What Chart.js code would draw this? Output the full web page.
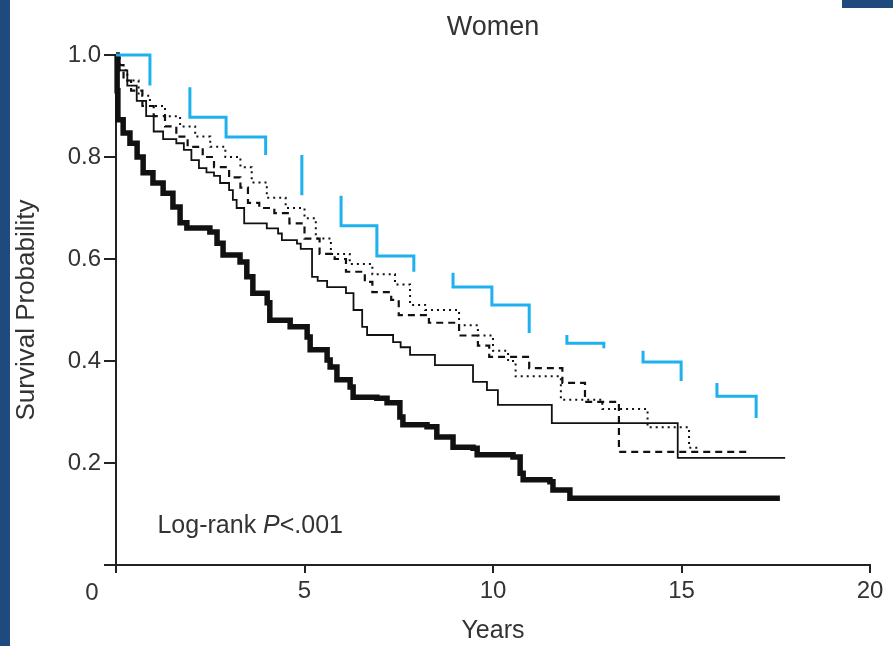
<!DOCTYPE html>
<html lang="en">
<head>
<meta charset="UTF-8">
<title>Women</title>
<script src="https://cdn.jsdelivr.net/npm/chart.js"></script>
<style>
    html, body { margin: 0; padding: 0; background: #fff; }
    body { width: 893px; height: 646px; position: relative; overflow: hidden; }
    canvas { position: absolute; left: 0; top: 0; }
    .bar { position: absolute; background: #1f4a7e; }
    #leftBar { left: 0; top: 0; width: 10px; height: 646px; }
    #cornerBar { left: 842px; top: 0; width: 51px; height: 8px; }
</style>
</head>
<body>
<canvas id="kmChart" width="893" height="646"></canvas>
<div class="bar" id="leftBar"></div>
<div class="bar" id="cornerBar"></div>
<script>
    // survival curves (years, probability)
    const thickYears = [0, 0.03, 0.05, 0.19, 0.37, 0.56, 0.72, 0.98, 1.25, 1.51, 1.70, 1.88, 2.49, 2.68, 2.84, 3.29, 3.47, 3.63, 4.01, 4.08, 4.62, 5.07, 5.15, 5.60, 5.68, 5.86, 6.21, 6.29, 6.92, 7.19, 7.53, 7.61, 8.25, 8.51, 8.94, 9.47, 9.58, 10.53, 10.72, 10.80, 11.51, 11.59, 12.04, 17.61];
    const thickSurv  = [1.0, 0.93, 0.873, 0.847, 0.827, 0.80, 0.769, 0.749, 0.729, 0.702, 0.671, 0.661, 0.653, 0.631, 0.608, 0.594, 0.565, 0.533, 0.514, 0.48, 0.467, 0.447, 0.422, 0.402, 0.388, 0.363, 0.349, 0.329, 0.327, 0.318, 0.29, 0.275, 0.271, 0.251, 0.231, 0.229, 0.216, 0.212, 0.18, 0.167, 0.163, 0.147, 0.131, 0.131];

    const thinYears = [0, 0.1, 0.3, 0.55, 0.8, 1.0, 1.25, 1.6, 1.8, 2.0, 2.2, 2.4, 2.6, 2.76, 3.0, 3.1, 3.2, 3.4, 4.0, 4.3, 4.4, 4.8, 4.9, 5.2, 5.35, 5.6, 6.1, 6.3, 6.53, 6.66, 7.35, 7.55, 7.8, 8.46, 9.47, 9.84, 10.13, 11.56, 14.9, 17.75];
    const thinSurv  = [1.0, 0.97, 0.94, 0.91, 0.88, 0.85, 0.835, 0.827, 0.814, 0.794, 0.778, 0.77, 0.763, 0.749, 0.735, 0.716, 0.70, 0.67, 0.66, 0.65, 0.637, 0.63, 0.62, 0.565, 0.557, 0.545, 0.533, 0.50, 0.467, 0.451, 0.437, 0.427, 0.412, 0.392, 0.359, 0.343, 0.314, 0.278, 0.21, 0.21];

    const dashYears = [0, 0.05, 0.2, 0.4, 0.7, 1.0, 1.3, 1.6, 1.9, 2.3, 2.6, 3.0, 3.3, 3.5, 3.8, 4.2, 4.6, 5.0, 5.4, 5.8, 6.1, 6.6, 6.8, 7.3, 7.5, 8.3, 9.1, 9.6, 9.9, 10.96, 11.84, 12.44, 13.34, 16.75];
    const dashSurv  = [1.0, 0.98, 0.95, 0.93, 0.90, 0.88, 0.86, 0.84, 0.82, 0.80, 0.78, 0.76, 0.74, 0.71, 0.70, 0.69, 0.67, 0.64, 0.61, 0.60, 0.575, 0.555, 0.535, 0.52, 0.49, 0.475, 0.45, 0.43, 0.408, 0.386, 0.357, 0.32, 0.222, 0.222];

    const dotYears = [0, 0.1, 0.3, 0.6, 0.9, 1.3, 1.7, 2.1, 2.5, 2.9, 3.3, 3.6, 4.0, 4.5, 5.0, 5.3, 5.7, 6.2, 6.8, 7.4, 7.8, 8.2, 9.1, 9.6, 10.0, 10.4, 10.6, 11.8, 12.9, 14.1, 15.2, 15.5];
    const dotSurv  = [1.0, 0.97, 0.95, 0.92, 0.90, 0.88, 0.86, 0.84, 0.82, 0.80, 0.78, 0.75, 0.72, 0.70, 0.68, 0.64, 0.61, 0.59, 0.57, 0.55, 0.51, 0.50, 0.47, 0.45, 0.42, 0.40, 0.37, 0.324, 0.306, 0.27, 0.23, 0.23];

    // blue reference staircase, drawn in broken pieces (null = gap)
    const refYears = [0, 0.9, 1.4, 1.96, 1.96, 2.92, 3.97, 4.4, 4.93, 4.93, 5.4, 5.97, 5.97, 6.92, 7.9, 8.4, 8.94, 8.94, 9.97, 10.96, 11.4, 11.96, 11.96, 12.94, 13.4, 13.98, 13.98, 14.99, 15.4, 15.94, 15.94, 16.98];
    const refSurv  = [1.0, 0.94, null, 0.937, 0.878, 0.839, 0.804, null, 0.804, 0.725, null, 0.724, 0.665, 0.606, 0.575, null, 0.573, 0.545, 0.51, 0.455, null, 0.451, 0.435, 0.425, null, 0.42, 0.398, 0.361, null, 0.357, 0.331, 0.288];

    const xTicks = [0, 5, 10, 15, 20];
    const yTicks = [0, 0.2, 0.4, 0.6, 0.8, 1.0];

    const family = "'Liberation Sans', Arial, Helvetica, sans-serif";
    const textColor = '#333';

    function toPoints(years, surv) {
        return years.map((t, i) => ({ x: t, y: surv[i] }));
    }

    function curve(years, surv, width, dash, color) {
        return {
            data: toPoints(years, surv),
            borderColor: color || '#111',
            borderWidth: width,
            borderDash: dash || [],
            stepped: 'before',
            spanGaps: false,
            pointRadius: 0,
            fill: false,
            clip: false
        };
    }

    // text the scales cannot place: the shifted "0" and the log-rank note
    const notePlugin = {
        id: 'notes',
        afterDraw(chart) {
            const { ctx, scales: { x, y } } = chart;
            ctx.save();
            ctx.fillStyle = textColor;
            ctx.textBaseline = 'middle';
            ctx.textAlign = 'center';
            ctx.font = `24px ${family}`;
            ctx.fillText('0', x.getPixelForValue(0) - 24, y.bottom + 28);

            ctx.textAlign = 'left';
            ctx.textBaseline = 'alphabetic';
            let px = x.getPixelForValue(1.1);
            const py = y.getPixelForValue(0.063);
            const parts = [['Log-rank ', 'normal'], ['P', 'italic'], ['<.001', 'normal']];
            parts.forEach(([txt, style]) => {
                ctx.font = `${style} 25px ${family}`;
                ctx.fillText(txt, px, py);
                px += ctx.measureText(txt).width;
            });
            ctx.restore();
        }
    };

    new Chart(document.getElementById('kmChart'), {
        type: 'line',
        data: {
            datasets: [
                curve(refYears, refSurv, 3, [], '#1fb0ee'),
                curve(dotYears, dotSurv, 2, [2, 4]),
                curve(dashYears, dashSurv, 2.2, [7, 5]),
                curve(thinYears, thinSurv, 1.8),
                curve(thickYears, thickSurv, 5.5)
            ]
        },
        options: {
            responsive: false,
            animation: false,
            layout: { padding: { top: 0, right: 23, bottom: 0, left: 0 } },
            plugins: {
                legend: { display: false },
                tooltip: { enabled: false },
                title: {
                    display: true,
                    text: 'Women',
                    fullSize: false,
                    color: textColor,
                    font: { family: family, size: 27, weight: 'normal' },
                    padding: { top: 11, bottom: 11.6 }
                }
            },
            scales: {
                x: {
                    type: 'linear',
                    min: 0,
                    max: 20,
                    afterBuildTicks(scale) {
                        scale.ticks = xTicks.map(v => ({ value: v }));
                    },
                    afterFit(scale) { scale.height = 81; },
                    border: { color: '#222', width: 2 },
                    grid: { drawOnChartArea: false, drawTicks: true, tickLength: 8, color: '#222', lineWidth: 2 },
                    ticks: {
                        color: textColor,
                        padding: 4,
                        font: { family: family, size: 24 },
                        callback: v => (v === 0 ? '' : String(v))
                    },
                    title: {
                        display: true,
                        text: 'Years',
                        color: textColor,
                        font: { family: family, size: 25 },
                        padding: { top: 0, bottom: 0 }
                    }
                },
                y: {
                    min: 0,
                    max: 1,
                    afterBuildTicks(scale) {
                        scale.ticks = yTicks.map(v => ({ value: v }));
                    },
                    afterFit(scale) { scale.width = 116; },
                    border: { color: '#222', width: 2 },
                    grid: { drawOnChartArea: false, drawTicks: true, tickLength: 12, color: '#222', lineWidth: 2 },
                    ticks: {
                        color: textColor,
                        padding: 3,
                        font: { family: family, size: 24 },
                        callback: v => (v === 0 ? '' : v.toFixed(1))
                    },
                    title: {
                        display: true,
                        text: 'Survival Probability',
                        color: textColor,
                        font: { family: family, size: 26 },
                        padding: { top: 11, bottom: 0 }
                    }
                }
            }
        },
        plugins: [notePlugin]
    });
</script>
</body>
</html>
